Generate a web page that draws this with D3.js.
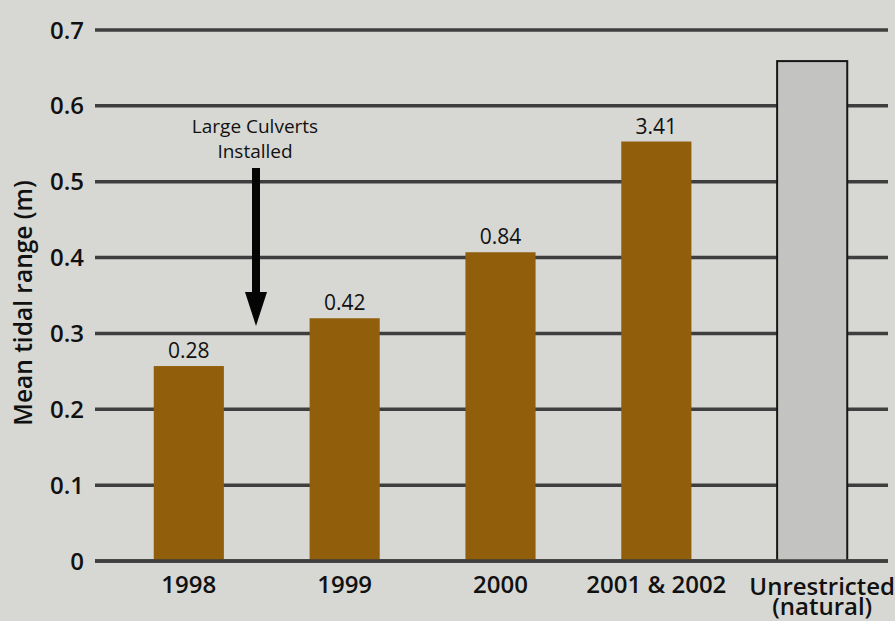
<!DOCTYPE html>
<html><head><meta charset="utf-8">
<script src="https://cdn.jsdelivr.net/npm/d3@7"></script>
<style>
html,body{margin:0;padding:0;background:#d7d8d3;}
svg{display:block;font-family:"Open Sans","Noto Sans",sans-serif;}
</style></head>
<body>
<svg id="c" width="895" height="621"></svg>
<script>
const categories = ["1998","1999","2000","2001 & 2002","Unrestricted"];
const categorySubLabels = ["","","","","(natural)"];
const values = [0.257, 0.320, 0.407, 0.553, 0.659];
const valueLabels = ["0.28","0.42","0.84","3.41",""];
const yTicks = [0,0.1,0.2,0.3,0.4,0.5,0.6,0.7];
const yTickLabels = ["0","0.1","0.2","0.3","0.4","0.5","0.6","0.7"];
const annotationLines = ["Large Culverts","Installed"];

const svg = d3.select("#c");
const gridX0 = 95, gridX1 = 888;
const y = d3.scaleLinear().domain([0,0.7]).range([561,30]);
const x = d3.scaleBand().domain(categories).range([107,894]).paddingInner(0.55).paddingOuter(0.3);

// gridlines
svg.append("g").selectAll("line").data(yTicks).join("line")
  .attr("x1",gridX0).attr("x2",gridX1)
  .attr("y1",d=>y(d)).attr("y2",d=>y(d))
  .attr("stroke","#3e3e3e").attr("stroke-width",3.5);

// y tick labels
svg.append("g").selectAll("text").data(yTicks).join("text")
  .attr("x",84).attr("y",d=>y(d)).attr("dy","0.36em")
  .attr("text-anchor","end").attr("font-size",24).attr("font-weight",600)
  .attr("fill","#111").text((d,i)=>yTickLabels[i]);

// y label
svg.append("text").attr("transform","translate(32,303) rotate(-90)")
  .attr("text-anchor","middle").attr("font-size",24.5).attr("font-weight",600)
  .attr("fill","#111").text("Mean tidal range (m)");

// bars
svg.append("g").selectAll("rect").data(values).join("rect")
  .attr("x",(d,i)=>x(categories[i]))
  .attr("width",x.bandwidth())
  .attr("y",d=>y(d))
  .attr("height",d=>y(0)-y(d))
  .attr("fill",(d,i)=>i===4?"#c3c4c1":"#915e0b")
  .attr("stroke",(d,i)=>i===4?"#161616":"none")
  .attr("stroke-width",2);

// zero line on top
svg.append("line").attr("x1",gridX0).attr("x2",gridX1)
  .attr("y1",y(0)).attr("y2",y(0)).attr("stroke","#3e3e3e").attr("stroke-width",3.5);

// value labels
svg.append("g").selectAll("text").data(values).join("text")
  .attr("x",(d,i)=>x(categories[i])+x.bandwidth()/2)
  .attr("y",d=>y(d)-8)
  .attr("text-anchor","middle").attr("font-size",21).attr("fill","#111")
  .text((d,i)=>valueLabels[i]);

// x labels
const xl = svg.append("g").selectAll("text").data(categories).join("text")
  .attr("x",(d,i)=>x(d)+x.bandwidth()/2 + (i===4?10:0))
  .attr("y",(d,i)=>i===4?595:593)
  .attr("text-anchor","middle").attr("font-size",24).attr("font-weight",600).attr("fill","#111");
xl.append("tspan").text(d=>d);
xl.append("tspan").attr("x",(d,i)=>x(d)+x.bandwidth()/2 + 10).attr("dy",20)
  .text((d,i)=>categorySubLabels[i]);

// annotation
const ax = 256;
svg.append("g").selectAll("text").data(annotationLines).join("text")
  .attr("x",ax-1).attr("y",(d,i)=>133+i*25)
  .attr("text-anchor","middle").attr("font-size",19).attr("fill","#111").text(d=>d);
const yA0 = 168, yA1 = 326, headLen = 34, headW = 11;
svg.append("line").attr("x1",ax).attr("x2",ax).attr("y1",yA0).attr("y2",yA1-headLen+4)
  .attr("stroke","#050505").attr("stroke-width",8);
svg.append("path")
  .attr("d",`M${ax-headW},${yA1-headLen} L${ax+headW},${yA1-headLen} L${ax},${yA1} Z`)
  .attr("fill","#050505");
</script>
</body></html>
